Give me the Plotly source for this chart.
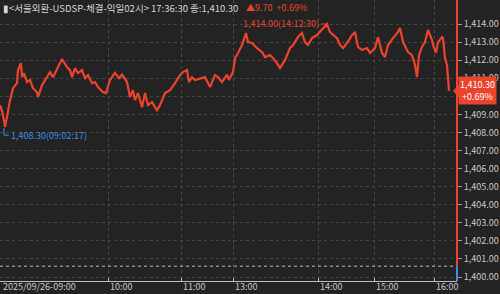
import plotly.graph_objects as go

# trade sequence index (horizontal position in ticks) and price
tick_no = [0, 2, 4, 5, 7, 10, 13, 17, 18, 21, 22, 24, 27, 30, 33, 37, 38, 42, 47, 50,
           53, 58, 62, 67, 70, 72, 75, 78, 82, 85, 88, 92, 95, 98, 103, 106, 110, 115, 119, 122,
           127, 130, 133, 135, 138, 142, 145, 148, 152, 157, 160, 165, 170, 175, 180, 183, 187, 189, 192, 195,
           200, 205, 210, 215, 218, 222, 227, 229, 233, 235, 238, 242, 246, 248, 252, 257, 262, 265, 270, 273,
           277, 280, 285, 290, 293, 298, 302, 305, 308, 312, 317, 322, 327, 330, 333, 337, 340, 343, 347, 352,
           355, 358, 362, 367, 370, 375, 378, 382, 385, 388, 393, 398, 400, 403, 408, 412, 415, 417, 419, 422,
           425, 428, 432, 433, 436, 438, 442, 443, 445, 447, 449]
price = [1409.51, 1409.20, 1408.68, 1408.30, 1408.85, 1409.79, 1410.45, 1410.73, 1411.45, 1411.84,
         1411.06, 1411.28, 1410.79, 1410.90, 1410.45, 1410.23, 1409.96, 1410.62, 1411.06, 1411.34,
         1411.06, 1411.62, 1412.06, 1411.62, 1411.45, 1411.06, 1411.56, 1411.28, 1411.45, 1411.00,
         1411.17, 1410.73, 1410.79, 1410.51, 1410.23, 1410.18, 1410.90, 1411.30, 1411.00, 1411.20,
         1410.79, 1409.96, 1410.34, 1409.79, 1410.18, 1409.40, 1410.18, 1409.51, 1409.68, 1409.24,
         1409.51, 1410.18, 1410.34, 1410.73, 1411.17, 1411.34, 1411.45, 1410.79, 1411.06, 1410.90,
         1411.00, 1411.06, 1410.51, 1411.17, 1411.06, 1410.79, 1411.20, 1410.90, 1411.34, 1412.12,
         1412.40, 1412.84, 1413.50, 1413.00, 1412.95, 1412.67, 1412.45, 1412.17, 1412.28, 1412.12,
         1411.84, 1411.56, 1412.00, 1412.67, 1412.84, 1413.28, 1413.50, 1413.00, 1412.84, 1413.22,
         1413.39, 1413.67, 1414.00, 1413.56, 1413.39, 1413.22, 1412.84, 1412.67, 1412.95, 1413.39,
         1413.56, 1412.73, 1412.56, 1412.67, 1412.40, 1412.67, 1413.28, 1412.40, 1412.17, 1412.84,
         1413.22, 1413.56, 1413.78, 1413.00, 1412.45, 1412.28, 1411.73, 1411.06, 1412.28, 1412.73,
         1413.00, 1413.67, 1413.11, 1412.84, 1412.40, 1413.00, 1413.28, 1413.22, 1412.12, 1411.73,
         1410.30]

time_tick_pos = [1, 108, 181, 233, 318, 374, 434]
time_tick_text = ["2025/09/26-09:00", "10:00", "11:00", "13:00", "14:00", "15:00", "16:00"]
y_ticks = list(range(1400, 1415))

prev_close = 1400.60
last_price = 1410.30
change = 9.70
change_pct = 0.69
max_price, max_time, max_pos = 1414.00, "14:12:30", 327
min_price, min_time, min_pos = 1408.30, "09:02:17", 5
title = "▮<서울외환-USDSP-체결-익일02시> 17:36:30 종:1,410.30"

RED = "#ec432d"
BLUE = "#3d8fe3"
BG = "#232323"
TXT = "#c9c9c9"
FONT = "Noto Sans CJK KR"

fig = go.Figure()
fig.add_trace(go.Scatter(x=tick_no, y=price, mode="lines",
                         line=dict(color=RED, width=2.2), hoverinfo="skip"))

yr = [1399.78, 1415.33]
# the last-price box covers the 1,410.00 label, as in the original
y_ticktext = ["" if abs(v - last_price) < 0.6 else f"{v:,.2f}" for v in y_ticks]
fig.update_layout(
    width=500, height=294,
    margin=dict(l=0, r=43, t=0, b=13),
    paper_bgcolor=BG, plot_bgcolor=BG,
    showlegend=False,
    font=dict(family=FONT, size=9, color=TXT),
    xaxis=dict(range=[0, 457], tickvals=time_tick_pos, ticktext=[""] * len(time_tick_pos),
               showgrid=True, gridcolor="#4a4a4a", griddash="dot", gridwidth=1,
               ticks="inside", ticklen=3, tickcolor="#bdbdbd",
               showline=True, linecolor="#bdbdbd", linewidth=1, zeroline=False,
               fixedrange=True),
    yaxis=dict(range=yr, side="right", tickvals=y_ticks, ticktext=y_ticktext,
               showgrid=True, gridcolor="#454545", griddash="dot",
               ticks="outside", ticklen=4, tickcolor="#9a9a9a",
               tickfont=dict(family=FONT, size=9, color=TXT),
               showline=False, zeroline=False, fixedrange=True),
)

shapes = []
# previous close dotted line
shapes.append(dict(type="line", xref="paper", x0=0, x1=1, yref="y", y0=prev_close, y1=prev_close,
                   line=dict(color="#bdbdbd", width=1, dash="dot")))
# axis colour line: red above prev close, blue below
shapes.append(dict(type="line", xref="paper", x0=1, x1=1, yref="y", y0=prev_close, y1=yr[1],
                   line=dict(color=RED, width=2)))
shapes.append(dict(type="line", xref="paper", x0=1, x1=1, yref="y", y0=yr[0], y1=prev_close,
                   line=dict(color=BLUE, width=2)))
# max marker
shapes.append(dict(type="line", xref="x", yref="y", x0=max_pos - 6, x1=max_pos, y0=max_price, y1=max_price,
                   line=dict(color=RED, width=1)))
shapes.append(dict(type="line", xref="x", yref="y", x0=max_pos, x1=max_pos, y0=max_price, y1=max_price - 0.2,
                   line=dict(color=RED, width=1)))
# min marker
shapes.append(dict(type="line", xref="x", yref="y", x0=min_pos - 1, x1=min_pos - 1, y0=min_price - 0.05,
                   y1=min_price - 0.45, line=dict(color=BLUE, width=1)))
shapes.append(dict(type="line", xref="x", yref="y", x0=min_pos - 1, x1=min_pos + 4, y0=min_price - 0.45,
                   y1=min_price - 0.45, line=dict(color=BLUE, width=1)))
# last-price pointer triangle
px = 1 / 457
shapes.append(dict(type="path", xref="paper", yref="y",
                   path=f"M {1 - 4 * px},{last_price} L {1 + 2 * px},{last_price + 0.35} "
                        f"L {1 + 2 * px},{last_price - 0.35} Z",
                   fillcolor=RED, line=dict(width=0)))
fig.update_layout(shapes=shapes)

ann = []
for pos, txt in zip(time_tick_pos, time_tick_text):
    ann.append(dict(x=pos, y=0, xref="x", yref="paper", text=txt, showarrow=False,
                    xanchor="left", yanchor="bottom", yshift=-14,
                    font=dict(family=FONT, size=9, color=TXT)))
ann.append(dict(x=0, y=1, xref="paper", yref="paper", text=title, showarrow=False,
                xanchor="left", yanchor="top", xshift=1, yshift=1,
                font=dict(family=FONT, size=9.5, color="#d6d6d6")))
ann.append(dict(x=244, y=1, xref="x", yref="paper",
                text=f"▲{change:.2f}  +{change_pct:.2f}%", showarrow=False,
                xanchor="left", yanchor="top", yshift=1,
                font=dict(family=FONT, size=9, color=RED)))
ann.append(dict(x=max_pos - 6, y=max_price, xref="x", yref="y",
                text=f"{max_price:,.2f}({max_time})", showarrow=False,
                xanchor="right", yanchor="middle", yshift=1,
                font=dict(family=FONT, size=9, color=RED)))
ann.append(dict(x=min_pos + 4, y=min_price - 0.45, xref="x", yref="y",
                text=f"{min_price:,.2f}({min_time})", showarrow=False,
                xanchor="left", yanchor="middle",
                font=dict(family=FONT, size=9, color=BLUE)))
ann.append(dict(x=1, y=last_price, xref="paper", yref="y",
                text=f"{last_price:,.2f}<br>+{change_pct:.2f}%", showarrow=False,
                xanchor="left", yanchor="middle", xshift=1,
                bgcolor=RED, borderpad=1, align="center",
                font=dict(family=FONT, size=9, color="#ffffff")))
fig.update_layout(annotations=ann)

fig.write_html("out.html")
